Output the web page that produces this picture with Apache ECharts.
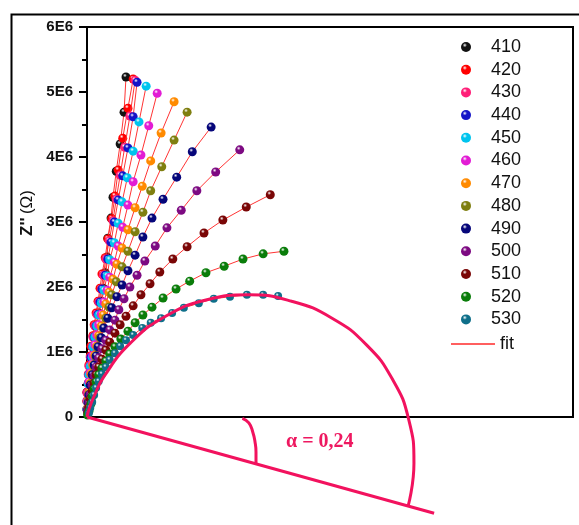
<!DOCTYPE html>
<html>
<head>
<meta charset="utf-8">
<script src="https://cdn.jsdelivr.net/npm/echarts@6/dist/echarts.min.js"></script>
<style>
html,body{margin:0;padding:0;background:#fff;}
#c{width:579px;height:525px;}
</style>
</head>
<body>
<div id="c"></div>
<script>
// Values in units of 1E6 ohm: [Z', Z'']
const names = ['410','420','430','440','450','460','470','480','490','500','510','520','530'];
const colors = ['#111111','#ff0000','#ff1f78','#1414c8','#00c4ee','#e21cd4','#ff8a00','#7f7f10','#06067a','#7d0a82','#7a0606','#0a7d0a','#0f6f8a'];

const d410 = [[0.00,0.12],[0.00,0.24],[0.00,0.38],[0.02,0.52],[0.03,0.66],[0.05,0.80],[0.08,0.94],[0.09,1.09],[0.12,1.25],[0.15,1.42],[0.18,1.60],[0.22,1.78],[0.25,1.98],[0.28,2.22],[0.31,2.46],[0.32,2.75],[0.37,3.06],[0.40,3.38],[0.45,3.78],[0.51,4.20],[0.57,4.69],[0.60,5.23]];
const d420 = [[0.00,0.12],[0.00,0.25],[0.00,0.38],[0.02,0.52],[0.02,0.66],[0.03,0.80],[0.05,0.94],[0.06,1.09],[0.09,1.25],[0.11,1.42],[0.14,1.60],[0.17,1.78],[0.20,1.98],[0.23,2.20],[0.28,2.45],[0.32,2.74],[0.38,3.05],[0.43,3.40],[0.48,3.80],[0.55,4.29],[0.63,4.75],[0.71,5.20]];
const d430 = [[0.00,0.12],[0.00,0.24],[0.00,0.37],[0.02,0.51],[0.02,0.65],[0.03,0.78],[0.05,0.92],[0.08,1.08],[0.09,1.23],[0.12,1.40],[0.15,1.58],[0.18,1.77],[0.22,1.97],[0.25,2.18],[0.29,2.43],[0.34,2.71],[0.40,3.02],[0.45,3.35],[0.51,3.72],[0.58,4.15],[0.66,4.63],[0.74,5.18]];
const d440 = [[0.00,0.12],[0.01,0.24],[0.02,0.37],[0.02,0.51],[0.03,0.65],[0.05,0.78],[0.06,0.92],[0.09,1.08],[0.11,1.23],[0.14,1.40],[0.17,1.58],[0.20,1.77],[0.23,1.97],[0.28,2.18],[0.32,2.43],[0.37,2.69],[0.42,3.00],[0.48,3.34],[0.55,3.71],[0.63,4.14],[0.71,4.62],[0.77,5.15]];
const d450 = [[0.00,0.12],[0.01,0.24],[0.02,0.37],[0.02,0.51],[0.03,0.65],[0.05,0.78],[0.08,0.92],[0.09,1.08],[0.12,1.23],[0.15,1.40],[0.18,1.57],[0.22,1.75],[0.26,1.95],[0.31,2.17],[0.35,2.42],[0.42,2.68],[0.48,2.98],[0.54,3.31],[0.62,3.68],[0.71,4.09],[0.80,4.54],[0.91,5.09]];
const d460 = [[0.01,0.13],[0.01,0.25],[0.02,0.38],[0.03,0.54],[0.05,0.68],[0.08,0.82],[0.09,0.95],[0.12,1.11],[0.15,1.26],[0.18,1.42],[0.22,1.58],[0.26,1.77],[0.31,1.95],[0.35,2.15],[0.42,2.38],[0.48,2.63],[0.55,2.92],[0.63,3.26],[0.71,3.62],[0.83,4.03],[0.95,4.48],[1.08,4.98]];
const d470 = [[0.01,0.13],[0.02,0.26],[0.03,0.38],[0.05,0.52],[0.06,0.66],[0.09,0.80],[0.12,0.95],[0.15,1.09],[0.18,1.25],[0.22,1.40],[0.25,1.57],[0.29,1.74],[0.34,1.92],[0.40,2.12],[0.46,2.35],[0.54,2.60],[0.63,2.88],[0.74,3.22],[0.85,3.55],[0.98,3.94],[1.14,4.37],[1.34,4.85]];
const d480 = [[0.01,0.12],[0.02,0.24],[0.03,0.35],[0.06,0.51],[0.08,0.65],[0.11,0.78],[0.14,0.92],[0.17,1.06],[0.20,1.22],[0.25,1.37],[0.29,1.52],[0.34,1.69],[0.38,1.88],[0.45,2.08],[0.54,2.31],[0.63,2.55],[0.74,2.85],[0.86,3.15],[0.98,3.48],[1.15,3.85],[1.34,4.26],[1.54,4.69]];
const d490 = [[0.01,0.11],[0.02,0.22],[0.03,0.34],[0.05,0.49],[0.08,0.65],[0.11,0.80],[0.14,0.94],[0.17,1.08],[0.22,1.22],[0.26,1.37],[0.32,1.52],[0.38,1.68],[0.46,1.85],[0.54,2.03],[0.63,2.25],[0.74,2.49],[0.86,2.77],[1.00,3.06],[1.17,3.35],[1.38,3.69],[1.62,4.08],[1.91,4.46]];
const d500 = [[0.01,0.10],[0.03,0.22],[0.05,0.35],[0.08,0.49],[0.11,0.63],[0.14,0.77],[0.18,0.91],[0.23,1.05],[0.29,1.18],[0.35,1.34],[0.43,1.49],[0.49,1.65],[0.57,1.82],[0.66,2.00],[0.77,2.18],[0.89,2.40],[1.05,2.63],[1.23,2.91],[1.45,3.18],[1.69,3.48],[1.98,3.77],[2.35,4.11]];
const d510 = [[0.01,0.06],[0.03,0.15],[0.05,0.28],[0.08,0.40],[0.11,0.52],[0.14,0.65],[0.18,0.77],[0.23,0.89],[0.29,1.03],[0.35,1.15],[0.43,1.29],[0.51,1.42],[0.60,1.55],[0.71,1.71],[0.83,1.88],[0.97,2.05],[1.12,2.23],[1.32,2.43],[1.54,2.62],[1.80,2.83],[2.09,3.03],[2.45,3.23],[2.82,3.42]];
const d520 = [[0.01,0.03],[0.03,0.09],[0.06,0.20],[0.08,0.32],[0.11,0.43],[0.14,0.54],[0.18,0.65],[0.23,0.75],[0.29,0.86],[0.35,0.97],[0.43,1.08],[0.52,1.20],[0.63,1.32],[0.74,1.45],[0.86,1.57],[1.00,1.69],[1.17,1.83],[1.37,1.97],[1.58,2.09],[1.83,2.22],[2.11,2.32],[2.40,2.43],[2.71,2.51],[3.03,2.55]];
const d530 = [[0.03,0.06],[0.05,0.14],[0.08,0.23],[0.11,0.34],[0.14,0.45],[0.18,0.55],[0.23,0.66],[0.29,0.77],[0.35,0.88],[0.43,0.98],[0.51,1.09],[0.60,1.18],[0.71,1.26],[0.85,1.37],[0.98,1.45],[1.14,1.52],[1.31,1.60],[1.49,1.68],[1.72,1.75],[1.95,1.82],[2.20,1.85],[2.46,1.88],[2.71,1.88],[2.94,1.86]];

// fitted depressed semicircle for 530
const fitArc = [[0.00,0.00],[0.03,0.12],[0.11,0.32],[0.26,0.62],[0.67,1.14],[1.21,1.55],[1.83,1.80],[2.49,1.88],[3.15,1.78],[3.77,1.52],[4.30,1.11],[4.70,0.58],[4.95,-0.04],[5.03,-0.71],[4.94,-1.37]];
const depressLine = [[0.00,0.00],[5.34,-1.48]];
const angleArc = [[2.39,-0.02],[2.49,-0.09],[2.55,-0.23],[2.585,-0.385],[2.60,-0.54],[2.60,-0.72]];
const alphaText = 'α = 0,24';
const yTicks = [0,1,2,3,4,5,6];

const allData = [d410,d420,d430,d440,d450,d460,d470,d480,d490,d500,d510,d520,d530];

function ball(c){
  return {type:'radial',x:0.38,y:0.32,r:0.72,colorStops:[{offset:0,color:'#ffffff'},{offset:0.3,color:c},{offset:1,color:c}]};
}

const series = names.map((n,i)=>({
  name:n, type:'line', data:allData[i], symbol:'circle',
  symbolSize: i===12 ? 8 : 9,
  showSymbol:true,
  itemStyle:{color:ball(colors[i])},
  lineStyle:{color:'#ff3434',width:1},
  z:2+i*0.01
}));
series.push({
  name:'fit', type:'line', data:fitArc, smooth:true, symbol:'none', clip:false,
  lineStyle:{color:'#f2125e',width:3}, itemStyle:{color:'#ff2a2a'}, z:5
});
series.push({
  name:'line', type:'line', data:depressLine, symbol:'none', clip:false,
  lineStyle:{color:'#f2125e',width:3}, z:5
});
series.push({
  name:'angle', type:'line', data:angleArc, smooth:true, symbol:'none', clip:false,
  lineStyle:{color:'#f2125e',width:3}, z:5
});

const chart = echarts.init(document.getElementById('c'),null,{renderer:'canvas'});
chart.setOption({
  animation:false,
  backgroundColor:'#ffffff',
  grid:{left:87,top:27,right:6,bottom:108,show:true,borderColor:'#000',borderWidth:2,backgroundColor:'transparent'},
  xAxis:{type:'value',min:0,max:7.477,
    axisLine:{show:true,onZero:false,lineStyle:{color:'#000',width:2}},
    axisTick:{show:false},axisLabel:{show:false},splitLine:{show:false}},
  yAxis:{type:'value',min:yTicks[0],max:yTicks[yTicks.length-1],interval:1,
    axisLine:{show:true,lineStyle:{color:'#000',width:2}},
    axisTick:{show:true,inside:false,length:8,lineStyle:{color:'#000',width:2}},
    minorTick:{show:true,splitNumber:2,length:5,lineStyle:{color:'#000',width:2}},
    splitLine:{show:false},
    axisLabel:{margin:14,fontFamily:'Liberation Sans, Arial',fontWeight:'bold',fontSize:15,color:'#111',
      formatter:v=> v===0 ? '0' : v+'E6'},
    name:"{b|Z''} {r|(Ω)}", nameLocation:'middle', nameGap:43, nameRotate:90,
    nameTextStyle:{padding:[0,0,0,18],
      rich:{b:{fontFamily:'Liberation Sans, Arial',fontWeight:'bold',fontSize:17,color:'#111'},
            r:{fontFamily:'Liberation Sans, Arial',fontSize:17,color:'#111'}}}
  },
  legend:[
    {data:names, orient:'vertical', left:456, top:33, icon:'circle', itemWidth:10, itemHeight:10, itemGap:4.7,
     textStyle:{fontFamily:'Liberation Sans, Arial',fontSize:18,color:'#111',lineHeight:18,padding:[0,0,0,15]}},
    {data:[{name:'fit',icon:'rect'}], orient:'vertical', left:446, top:330, itemWidth:44, itemHeight:1.5,
     itemStyle:{color:'#ff2a2a'},
     textStyle:{fontFamily:'Liberation Sans, Arial',fontSize:18,color:'#111',lineHeight:18}}
  ],
  graphic:[
    {type:'rect',left:9,top:12,z:-10,shape:{width:700,height:700},style:{fill:'none',stroke:'#000',lineWidth:2}},
    {type:'text',left:286,top:432,z:10,style:{text:alphaText,fill:'#ee1860',font:'bold 20px "Liberation Serif", "Times New Roman", serif'}}
  ],
  series:series
});
</script>
</body>
</html>
